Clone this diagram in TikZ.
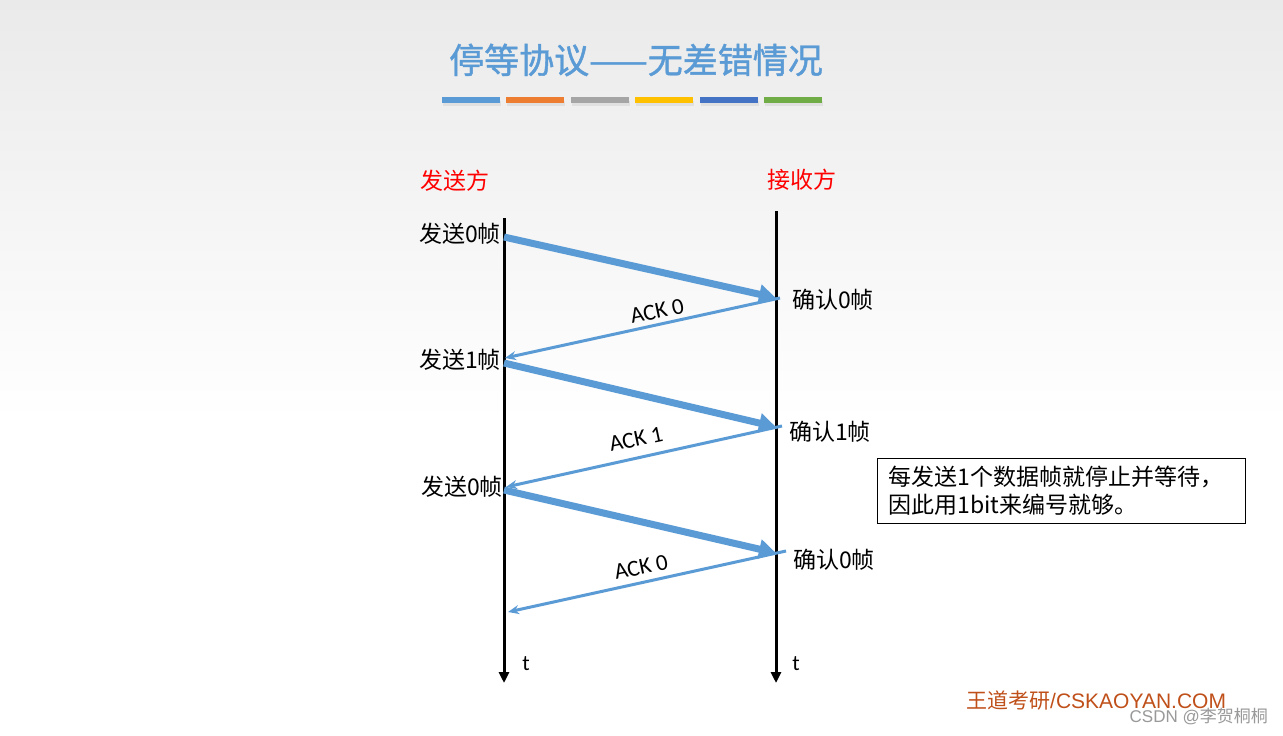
\documentclass[tikz,border=0pt]{standalone}
\usepackage{fontspec}
\setmainfont{Carlito}
\newfontfamily\cjk{Noto Sans CJK SC}
\newfontfamily\titlefont[FakeBold=1.2]{Noto Sans CJK SC}
\newfontfamily\arialfont{Liberation Sans}
\usetikzlibrary{arrows.meta,positioning}
\definecolor{slideblue}{HTML}{5B9BD5}
\definecolor{slideorange}{HTML}{ED7D31}
\definecolor{slidegray}{HTML}{A5A5A5}
\definecolor{slidegold}{HTML}{FFC000}
\definecolor{slidedarkblue}{HTML}{4472C4}
\definecolor{slidegreen}{HTML}{70AD47}
\definecolor{brandred}{HTML}{C0501A}
\definecolor{bgtop}{HTML}{EAEAEA}

\begin{document}
\begin{tikzpicture}[x=1pt,y=-1pt,
  frame/.style={slideblue, line width=7pt, -{Triangle[length=17pt,width=19pt]}},
  ack/.style={slideblue, line width=3pt, -{Stealth[length=11pt,width=9pt]}},
  timeline/.style={line width=3pt, -{Triangle[length=11pt,width=10pt]}},
  lbl/.style={inner sep=0pt, font=\cjk\fontsize{23}{26}\selectfont},
  acklbl/.style={inner sep=0pt, font=\fontsize{23}{26}\selectfont, rotate=12},
  bar/.style={minimum width=58pt, minimum height=6pt, inner sep=0pt}]

% background
\useasboundingbox (0,0) rectangle (1283,736);
\fill[white] (0,0) rectangle (1283,736);
\shade[top color=bgtop, bottom color=white] (0,0) rectangle (1283,420);

% title and colour bars
\node (title) [inner sep=0pt, text=slideblue, font=\titlefont\fontsize{35}{40}\selectfont] at (636,60) {停等协议——无差错情况};
\foreach \c [count=\i] in {slideblue,slideorange,slidegray,slidegold,slidedarkblue,slidegreen}
  {\fill[black!12] (442+64.4*\i-64.4+1,99+1.5) rectangle +(58,5);
   \node (bar\i) [bar, fill=\c] at (442+64.4*\i-64.4+29,99.5) {};}

% the two sides
\node (sender) [lbl, text=red] at (455,181) {发送方};
\node (receiver) [lbl, text=red] at (802,180) {接收方};
\coordinate (s0) at (504,218);
\coordinate (s1) at (504,683);
\coordinate (r0) at (776,211);
\coordinate (r1) at (776,683);
\draw[timeline] (s0) -- (s1);
\draw[timeline] (r0) -- (r1);
\node (tsend) [font=\fontsize{22}{24}\selectfont] at (526,664) {t};
\node (trecv) [font=\fontsize{22}{24}\selectfont] at (796,664) {t};

% events
\coordinate (f0) at (504,237);
\coordinate (c0) at (776,298);
\coordinate (a0) at (780,298);
\coordinate (f1) at (505,358);
\coordinate (g1) at (504,363);
\coordinate (c1) at (776,427);
\coordinate (a1) at (782,426);
\coordinate (f2) at (506,487);
\coordinate (g2) at (504,490);
\coordinate (c2) at (776,553);
\coordinate (a2) at (786,551);
\coordinate (f3) at (508,612);

\node (send0) [lbl, anchor=east] at (501,234) {发送0帧};
\node (send1) [lbl, anchor=east] at (501,360) {发送1帧};
\node (send2) [lbl, anchor=east] at (503,487) {发送0帧};
\node (conf0) [lbl, anchor=west] at (792,300) {确认0帧};
\node (conf1) [lbl, anchor=west] at (789,432) {确认1帧};
\node (conf2) [lbl, anchor=west] at (793,560) {确认0帧};

% frames and acknowledgements
\draw[frame] (f0) -- (c0);
\draw[ack] (a0) -- (f1);
\draw[frame] (g1) -- (c1);
\draw[ack] (a1) -- (f2);
\draw[frame] (g2) -- (c2);
\draw[ack] (a2) -- (f3);
\node (ack0) [acklbl] at (657,311) {ACK 0};
\node (ack1) [acklbl] at (636,439) {ACK 1};
\node (ack2) [acklbl] at (641,567) {ACK 0};

% note
\node (note) [draw, line width=1.3pt, anchor=north west, text width=346pt, minimum height=65pt,
  inner xsep=11pt, inner ysep=6pt, align=left, font=\cjk\fontsize{23}{28}\selectfont] at (877,458)
  {每发送1个数据帧就停止并等待，\\因此用1bit来编号就够。};

% footer
\node (brand) [anchor=west, inner sep=0pt, text=brandred, font=\fontsize{21}{24}\selectfont] at (966,701)
  {{\cjk 王道考研}\arialfont/CSKAOYAN.COM};
\node (mark) [anchor=east, inner sep=0pt, text=black!40, font=\fontsize{17}{20}\selectfont] at (1268,717)
  {\arialfont CSDN @{\cjk 李贺桐桐}};

\end{tikzpicture}
\end{document}
